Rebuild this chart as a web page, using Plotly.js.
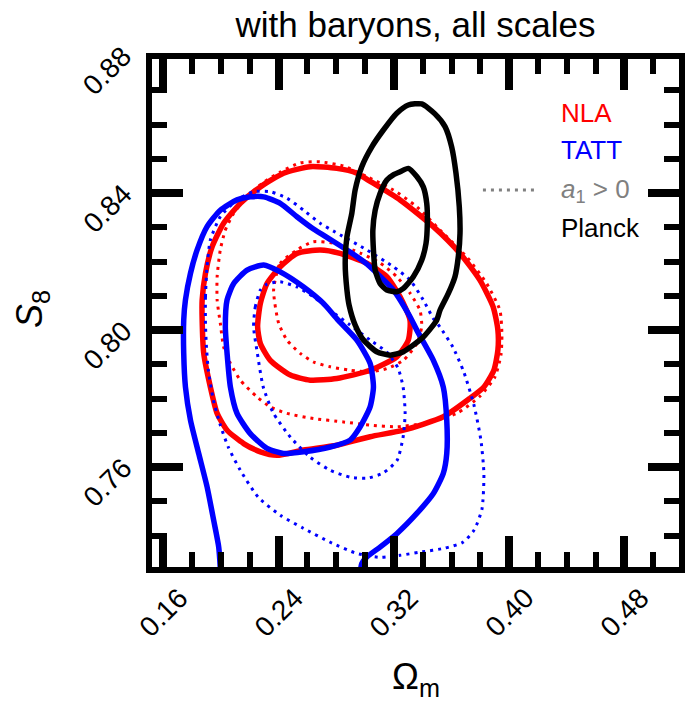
<!DOCTYPE html>
<html><head><meta charset="utf-8">
<script src="https://cdn.plot.ly/plotly-3.0.1.min.js"></script>
<style>html,body{margin:0;padding:0;background:#fff}#chart{width:685px;height:704px}</style>
</head><body><div id="chart"></div><script>
// ---- data (Omega_m, S8) ----
const planckOuterX = [0.3300,0.3393,0.3485,0.3555,0.3601,0.3631,0.3654,0.3659,0.3647,0.3624,0.3578,0.3520,0.3497,0.3404,0.3266,0.3174,0.3081,0.2989,0.2931,0.2889,0.2874,0.2862,0.2874,0.2908,0.2931,0.2977,0.3047,0.3127,0.3220];
const planckOuterY = [0.8657,0.8660,0.8631,0.8594,0.8535,0.8458,0.8360,0.8283,0.8214,0.8156,0.8107,0.8058,0.8029,0.7980,0.7937,0.7927,0.7937,0.7971,0.8015,0.8073,0.8117,0.8196,0.8272,0.8341,0.8409,0.8477,0.8535,0.8584,0.8633];
const planckInnerX = [0.3243,0.3300,0.3359,0.3404,0.3428,0.3432,0.3423,0.3393,0.3335,0.3266,0.3220,0.3151,0.3104,0.3070,0.3058,0.3054,0.3070,0.3104,0.3151,0.3196];
const planckInnerY = [0.8462,0.8472,0.8448,0.8418,0.8370,0.8312,0.8253,0.8204,0.8156,0.8122,0.8112,0.8117,0.8136,0.8175,0.8234,0.8292,0.8350,0.8399,0.8438,0.8453];

const nlaOuterX = [0.1869,0.1892,0.1938,0.2018,0.2134,0.2273,0.2434,0.2619,0.2804,0.2943,0.3021,0.3243,0.3474,0.3659,0.3797,0.3889,0.3922,0.3922,0.3894,0.3825,0.3728,0.3543,0.3266,0.3035,0.2804,0.2573,0.2388,0.2273,0.2157,0.2042,0.1973,0.1926,0.1880,0.1869];
const nlaOuterY = [0.8088,0.8166,0.8243,0.8312,0.8370,0.8418,0.8458,0.8477,0.8472,0.8458,0.8438,0.8380,0.8302,0.8224,0.8146,0.8068,0.8000,0.7942,0.7883,0.7834,0.7801,0.7747,0.7708,0.7689,0.7664,0.7650,0.7635,0.7645,0.7669,0.7708,0.7757,0.7834,0.7932,0.8029];
const nlaInnerX = [0.2254,0.2273,0.2319,0.2411,0.2527,0.2688,0.2827,0.3012,0.3151,0.3243,0.3312,0.3300,0.3220,0.3035,0.2804,0.2619,0.2481,0.2342,0.2273];
const nlaInnerY = [0.8010,0.8078,0.8136,0.8185,0.8224,0.8234,0.8224,0.8195,0.8156,0.8097,0.8029,0.7971,0.7922,0.7883,0.7859,0.7854,0.7869,0.7912,0.7961];
const nlaPosOuterX = [0.1995,0.2030,0.2088,0.2181,0.2287,0.2411,0.2550,0.2688,0.2850,0.3012,0.3196,0.3359,0.3520,0.3705,0.3844,0.3936,0.3950,0.3943,0.3901,0.3797,0.3636,0.3404,0.3220,0.3035,0.2850,0.2642,0.2458,0.2342,0.2250,0.2134,0.2065,0.2018,0.1995,0.1973,0.1973];
const nlaPosOuterY = [0.8234,0.8292,0.8341,0.8389,0.8429,0.8461,0.8488,0.8491,0.8479,0.8448,0.8409,0.8360,0.8292,0.8214,0.8136,0.8058,0.7985,0.7927,0.7863,0.7807,0.7757,0.7728,0.7718,0.7723,0.7732,0.7742,0.7757,0.7776,0.7805,0.7854,0.7903,0.7951,0.8020,0.8088,0.8156];
const nlaPosInnerX = [0.2365,0.2411,0.2527,0.2640,0.2779,0.2966,0.3104,0.3220,0.3312,0.3381,0.3393,0.3359,0.3266,0.3151,0.3035,0.2896,0.2758,0.2642,0.2550,0.2458,0.2400];
const nlaPosInnerY = [0.8117,0.8195,0.8234,0.8258,0.8254,0.8225,0.8196,0.8156,0.8108,0.8058,0.8010,0.7961,0.7912,0.7888,0.7878,0.7883,0.7893,0.7907,0.7932,0.7971,0.8020];

const tattOuterX = [0.1997,0.1984,0.1949,0.1903,0.1845,0.1788,0.1753,0.1741,0.1741,0.1753,0.1788,0.1834,0.1903,0.1995,0.2111,0.2203,0.2296,0.2411,0.2527,0.2642,0.2765,0.2896,0.3012,0.3196,0.3312,0.3359,0.3474,0.3543,0.3567,0.3567,0.3543,0.3474,0.3359,0.3220,0.3104,0.3012,0.2977,0.2966];
const tattOuterY = [0.7290,0.7367,0.7445,0.7543,0.7640,0.7737,0.7834,0.7932,0.8029,0.8088,0.8166,0.8234,0.8302,0.8350,0.8380,0.8389,0.8389,0.8370,0.8331,0.8295,0.8263,0.8228,0.8193,0.8117,0.8039,0.8000,0.7912,0.7834,0.7737,0.7640,0.7582,0.7523,0.7465,0.7406,0.7367,0.7338,0.7319,0.7290];
const tattInnerX = [0.2030,0.2042,0.2088,0.2181,0.2296,0.2411,0.2573,0.2711,0.2813,0.2943,0.3035,0.3058,0.3035,0.2966,0.2896,0.2758,0.2573,0.2434,0.2319,0.2203,0.2111,0.2065,0.2042];
const tattInnerY = [0.8010,0.8088,0.8136,0.8175,0.8190,0.8170,0.8126,0.8078,0.8029,0.7971,0.7903,0.7834,0.7776,0.7718,0.7679,0.7659,0.7645,0.7640,0.7655,0.7698,0.7757,0.7834,0.7932];
const tattPosOuterX = [0.1892,0.1892,0.1903,0.1926,0.1995,0.2111,0.2226,0.2342,0.2458,0.2573,0.2688,0.2781,0.3012,0.3196,0.3312,0.3404,0.3472,0.3520,0.3610,0.3686,0.3756,0.3804,0.3825,0.3811,0.3756,0.3679,0.3555,0.3381,0.3243,0.3104,0.2938,0.2758,0.2571,0.2411,0.2259,0.2134,0.2051,0.1995,0.1947,0.1912,0.1898];
const tattPosOuterY = [0.8020,0.8097,0.8185,0.8263,0.8331,0.8380,0.8404,0.8404,0.8385,0.8350,0.8312,0.8289,0.8234,0.8185,0.8146,0.8088,0.8035,0.8009,0.7950,0.7877,0.7781,0.7679,0.7580,0.7477,0.7416,0.7381,0.7364,0.7352,0.7343,0.7337,0.7349,0.7381,0.7422,0.7460,0.7512,0.7591,0.7658,0.7723,0.7796,0.7883,0.7956];
const tattPosInnerX = [0.2226,0.2238,0.2273,0.2319,0.2411,0.2527,0.2642,0.2758,0.2896,0.3035,0.3151,0.3229,0.3264,0.3278,0.3264,0.3222,0.3125,0.3014,0.2896,0.2758,0.2619,0.2481,0.2363,0.2293,0.2252];
const tattPosInnerY = [0.8010,0.8068,0.8117,0.8134,0.8141,0.8126,0.8097,0.8058,0.8015,0.7971,0.7936,0.7889,0.7834,0.7758,0.7688,0.7620,0.7583,0.7568,0.7571,0.7591,0.7629,0.7688,0.7758,0.7834,0.7933];

const xTickVals = [0.16, 0.24, 0.32, 0.40, 0.48];
const xTickText = ['0.16', '0.24', '0.32', '0.40', '0.48'];
const yTickVals = [0.76, 0.80, 0.84, 0.88];
const yTickText = ['0.76', '0.80', '0.84', '0.88'];
const legendLabels = ['NLA', 'TATT', '<i>a</i><sub>1</sub> > 0', 'Planck'];
const legendColors = ['#ff0000', '#0000ff', '#808080', '#000000'];

// ---- drawing ----
const FONT = 'Liberation Sans, Arial, Helvetica, sans-serif';
const XR = [0.15208, 0.51792];
const YR = [0.73088, 0.87912];
function closed(a){ return a.concat([a[0]]); }
function contour(xs, ys, color, dotted, loop){
  return {type:'scatter', mode:'lines',
    x: loop ? closed(xs) : xs, y: loop ? closed(ys) : ys,
    line:{color:color, width: dotted ? 3 : 5.5, dash: dotted ? '3px,5px' : 'solid', shape:'spline', smoothing:0.6},
    hoverinfo:'skip', showlegend:false};
}
const RED = '#ff0000', BLUE = '#0000ff', BLACK = '#000000';
const traces = [
  contour(nlaOuterX, nlaOuterY, RED, false, true),
  contour(nlaInnerX, nlaInnerY, RED, false, true),
  contour(nlaPosOuterX, nlaPosOuterY, RED, true, true),
  contour(nlaPosInnerX, nlaPosInnerY, RED, true, true),
  contour(tattOuterX, tattOuterY, BLUE, false, false),
  contour(tattInnerX, tattInnerY, BLUE, false, true),
  contour(tattPosOuterX, tattPosOuterY, BLUE, true, true),
  contour(tattPosInnerX, tattPosInnerY, BLUE, true, true),
  contour(planckOuterX, planckOuterY, BLACK, false, true),
  contour(planckInnerX, planckInnerY, BLACK, false, true)
];

const annotations = [];
xTickVals.forEach((v, i) => annotations.push({xref:'x', x:v, yref:'paper', y:0, yshift:-45,
  text:xTickText[i], textangle:-45, showarrow:false, xanchor:'center', yanchor:'middle',
  font:{family:FONT, size:28, color:'#000'}}));
yTickVals.forEach((v, i) => annotations.push({xref:'paper', x:0, xshift:-44.5,
  yref:'paper', y:(v - YR[0])/(YR[1]-YR[0]), yshift:-15,
  text:yTickText[i], textangle:-45, showarrow:false, xanchor:'center', yanchor:'middle',
  font:{family:FONT, size:28, color:'#000'}}));
const legendShift = [-54, -91, -131, -169];
legendLabels.forEach((t, i) => annotations.push({xref:'paper', x:0, xshift:406.5, yref:'paper', y:1, yshift:legendShift[i],
  text:t, showarrow:false, xanchor:'left', yanchor:'middle', font:{family:FONT, size:26, color:legendColors[i]}}));
annotations.push({xref:'paper', x:0.5, yref:'paper', y:0, yshift:-112, text:'Ω<sub>m</sub>', showarrow:false,
  xanchor:'center', yanchor:'middle', font:{family:FONT, size:36, color:'#000'}});
annotations.push({xref:'paper', x:0, xshift:-120, yref:'paper', y:0.5, yshift:4, text:'<i>S</i><sub>8</sub>', showarrow:false,
  textangle:-90, xanchor:'center', yanchor:'middle', font:{family:FONT, size:36, color:'#000'}});

const axisCommon = {showgrid:false, zeroline:false, showline:true, linewidth:6, linecolor:'#000',
  mirror:'allticks', ticks:'inside', ticklen:31, tickwidth:8, tickcolor:'#000', showticklabels:false, fixedrange:true};

const layout = {
  width:685, height:704,
  margin:{l:151.5, r:5.6, t:59, b:137.25, pad:0},
  paper_bgcolor:'#fff', plot_bgcolor:'#fff',
  font:{family:FONT, color:'#000'},
  title:{text:'with baryons, all scales', font:{family:FONT, size:35, color:'#000'},
    x:0.5, xref:'paper', xanchor:'center', y:0.965, yref:'container', yanchor:'middle'},
  xaxis:Object.assign({}, axisCommon, {range:XR, tick0:0.16, dtick:0.08,
    minor:{ticks:'inside', ticklen:15, tickwidth:6, tickcolor:'#000', tick0:0.16, dtick:0.02, showgrid:false}}),
  yaxis:Object.assign({}, axisCommon, {range:YR, tick0:0.76, dtick:0.04,
    minor:{ticks:'inside', ticklen:15, tickwidth:6, tickcolor:'#000', tick0:0.76, dtick:0.01, showgrid:false}}),
  annotations:annotations,
  shapes:[{type:'line', xref:'paper', yref:'paper', x0:331.5/527.9, x1:385.5/527.9,
    y0:1-131/507.75, y1:1-131/507.75, line:{color:'#808080', width:3, dash:'3px,5px'}}],
  showlegend:false
};
Plotly.newPlot('chart', traces, layout, {displayModeBar:false, staticPlot:true});
</script></body></html>
